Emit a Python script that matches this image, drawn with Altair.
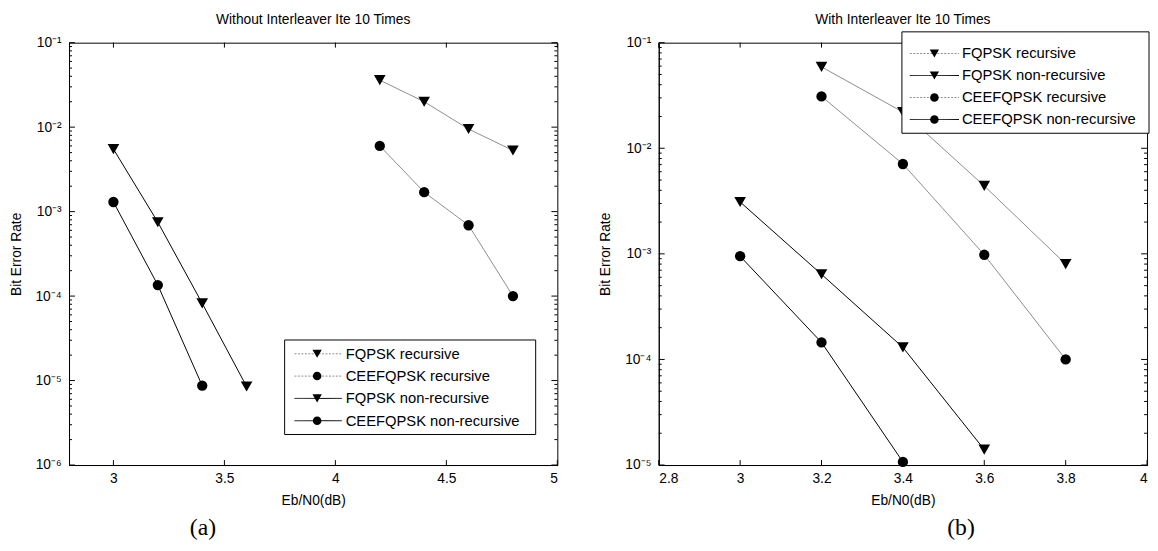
import altair as alt
import pandas as pd

# ---------------- data: panel (a) Without Interleaver ----------------
a_fq_rec_x = [4.2, 4.4, 4.6, 4.8]
a_fq_rec_y = [0.036, 0.020, 0.0095, 0.0053]
a_cee_rec_x = [4.2, 4.4, 4.6, 4.8]
a_cee_rec_y = [0.0060, 0.0017, 0.00069, 0.00010]
a_fq_non_x = [3.0, 3.2, 3.4, 3.6]
a_fq_non_y = [0.0055, 0.00075, 0.000082, 0.0000085]
a_cee_non_x = [3.0, 3.2, 3.4]
a_cee_non_y = [0.0013, 0.000135, 0.0000087]

# ---------------- data: panel (b) With Interleaver ----------------
b_fq_rec_x = [3.2, 3.4, 3.6, 3.8]
b_fq_rec_y = [0.059, 0.022, 0.0044, 0.00080]
b_cee_rec_x = [3.2, 3.4, 3.6, 3.8]
b_cee_rec_y = [0.031, 0.0071, 0.00098, 0.00010]
b_fq_non_x = [3.0, 3.2, 3.4, 3.6]
b_fq_non_y = [0.0031, 0.00064, 0.00013, 0.000014]
b_cee_non_x = [3.0, 3.2, 3.4]
b_cee_non_y = [0.00095, 0.000145, 0.0000107]

a_legend_labels = ["FQPSK recursive", "CEEFQPSK recursive", "FQPSK non-recursive", "CEEFQPSK non-recursive"]
b_legend_labels = ["FQPSK recursive", "FQPSK non-recursive", "CEEFQPSK recursive", "CEEFQPSK non-recursive"]

a_xticks = [3, 3.5, 4, 4.5, 5]
b_xticks = [2.8, 3, 3.2, 3.4, 3.6, 3.8, 4]

KIND = {"FQPSK recursive": ("recursive", "tri"),
        "CEEFQPSK recursive": ("recursive", "circ"),
        "FQPSK non-recursive": ("non-recursive", "tri"),
        "CEEFQPSK non-recursive": ("non-recursive", "circ")}

FONT = "Liberation Sans"
W, H = 496, 429
SHAPES = {"tri": "triangle-down", "circ": "circle"}
COLORS = {"recursive": "#8c8c8c", "non-recursive": "#000000"}
DASHES = {"recursive": [2, 1.5], "non-recursive": [1, 0]}


def series_df(entries):
    rows = []
    for name, xs, ys in entries:
        kind, marker = KIND[name]
        for x, y in zip(xs, ys):
            rows.append({"series": name, "kind": kind, "marker": marker, "x": x, "ber": y})
    return pd.DataFrame(rows)


kind_color = alt.Scale(domain=["recursive", "non-recursive"], range=["#8c8c8c", "#000000"])
marker_shape = alt.Scale(domain=["tri", "circ"], range=["triangle-down", "circle"])
marker_size = alt.Scale(domain=["tri", "circ"], range=[140, 110])

SUP = "['⁰','⁻¹','⁻²','⁻³','⁻⁴','⁻⁵','⁻⁶','⁻⁷']"


def panel(df, labels, xdom, xticks, emin, title, title_offset, caption, leg_box, leg_rows, leg_line,
          leg_mark, leg_text, cap_xy):
    xs = alt.Scale(domain=xdom, nice=False, zero=False)
    ys = alt.Scale(type="log", domain=[10.0 ** emin, 0.1], nice=False)
    major = [10.0 ** e for e in range(emin, 0)]
    minor = [m * 10.0 ** e for e in range(emin, -1) for m in range(2, 10)]
    xaxis = alt.Axis(values=xticks, format="~g", title="Eb/N0(dB)", ticks=False, grid=False,
                     labelPadding=7, titlePadding=8)
    yaxis = alt.Axis(values=major, title="Bit Error Rate", ticks=False, grid=False,
                     labelPadding=8, titlePadding=12,
                     labelExpr="'10' + " + SUP + "[round(-log(datum.value)/LN10)]")
    X = alt.X("x:Q", scale=xs, axis=xaxis)
    Y = alt.Y("ber:Q", scale=ys, axis=yaxis)

    lines = alt.Chart(df).mark_line(strokeWidth=1).encode(
        x=X, y=Y, detail="series:N",
        color=alt.Color("kind:N", scale=kind_color, legend=None),
    )
    points = alt.Chart(df).mark_point(filled=True, opacity=1, color="black").encode(
        x=X, y=Y,
        shape=alt.Shape("marker:N", scale=marker_shape, legend=None),
        size=alt.Size("marker:N", scale=marker_size, legend=None),
    )

    def yticks(vals, ln, right):
        d = pd.DataFrame({"ber": vals})
        xa = alt.value(W - ln) if right else alt.value(0)
        xb = alt.value(W) if right else alt.value(ln)
        return alt.Chart(d).mark_rule(color="black", strokeWidth=1).encode(y=Y, x=xa, x2=xb)

    def xticks_layer(vals, top):
        d = pd.DataFrame({"x": vals})
        ya = alt.value(0) if top else alt.value(H - 5)
        yb = alt.value(5) if top else alt.value(H)
        return alt.Chart(d).mark_rule(color="black", strokeWidth=1).encode(x=X, y=ya, y2=yb)

    layers = [lines, points,
              yticks(major, 6, False), yticks(major, 6, True),
              yticks(minor, 3, False), yticks(minor, 3, True),
              xticks_layer(xticks, False), xticks_layer(xticks, True)]

    one = pd.DataFrame({"b": [0]})
    layers.append(alt.Chart(one).mark_rect(fill="white", stroke="black", strokeWidth=1).encode(
        x=alt.value(leg_box[0]), x2=alt.value(leg_box[1]), y=alt.value(leg_box[2]), y2=alt.value(leg_box[3])))
    step = (leg_rows[1] - leg_rows[0]) / (len(labels) - 1)
    for i, lab in enumerate(labels):
        kind, marker = KIND[lab]
        yv = alt.value(leg_rows[0] + i * step)
        ld = pd.DataFrame({"label": [lab]})
        layers.append(alt.Chart(ld).mark_rule(strokeWidth=1, color=COLORS[kind], strokeDash=DASHES[kind]).encode(
            x=alt.value(leg_line[0]), x2=alt.value(leg_line[1]), y=yv))
        layers.append(alt.Chart(ld).mark_point(filled=True, opacity=1, color="black", shape=SHAPES[marker],
                                               size=90 if marker == "tri" else 75).encode(
            x=alt.value(leg_mark), y=yv))
        layers.append(alt.Chart(ld).mark_text(align="left", baseline="middle", font=FONT, fontSize=15,
                                              color="black").encode(
            x=alt.value(leg_text), y=yv, text="label:N"))
    layers.append(alt.Chart(pd.DataFrame({"c": [caption]})).mark_text(
        font="Liberation Serif", fontSize=24, align="center", baseline="middle", color="black").encode(
        x=alt.value(cap_xy[0]), y=alt.value(cap_xy[1]), text="c:N"))

    return alt.layer(*layers).properties(
        width=W, height=H,
        title=alt.TitleParams(title, fontSize=14, fontWeight="normal", font=FONT, offset=title_offset,
                              anchor="middle", frame="group", color="black"))


df_a = series_df([("FQPSK recursive", a_fq_rec_x, a_fq_rec_y),
                  ("CEEFQPSK recursive", a_cee_rec_x, a_cee_rec_y),
                  ("FQPSK non-recursive", a_fq_non_x, a_fq_non_y),
                  ("CEEFQPSK non-recursive", a_cee_non_x, a_cee_non_y)])
df_b = series_df([("FQPSK recursive", b_fq_rec_x, b_fq_rec_y),
                  ("FQPSK non-recursive", b_fq_non_x, b_fq_non_y),
                  ("CEEFQPSK recursive", b_cee_rec_x, b_cee_rec_y),
                  ("CEEFQPSK non-recursive", b_cee_non_x, b_cee_non_y)])

left = panel(df_a, a_legend_labels, [2.8, 5.0], a_xticks, -6,
             "Without Interleaver Ite 10 Times", 9, "(a)",
             (219, 474, 302, 398), (316, 384), (229, 277), 252, 281, (136, 493))
right = panel(df_b, b_legend_labels, [2.8, 4.0], b_xticks, -5,
              "With Interleaver Ite 10 Times", 4, "(b)",
              (247, 498, -11, 92), (11, 78), (255, 305), 280, 308, (307, 493))

chart = alt.hconcat(left, right, spacing=40).properties(
    padding={"left": 0, "top": 0, "right": 0, "bottom": 0}, background="white"
).configure_view(stroke="black", strokeWidth=1).configure_axis(
    labelFont=FONT, titleFont=FONT, labelFontSize=14, titleFontSize=14, titleFontWeight="normal",
    labelColor="black", titleColor="black", domainColor="black", domainWidth=1
)

chart.save("out.html", embed_options={"renderer": "svg", "actions": False})
